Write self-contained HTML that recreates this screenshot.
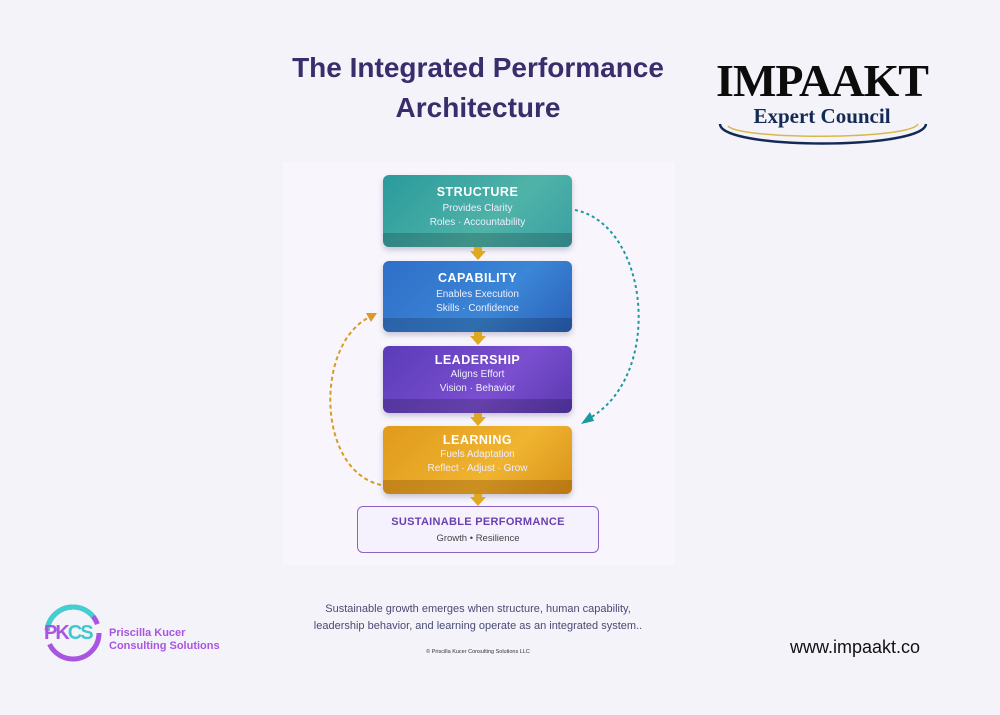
<!DOCTYPE html>
<html><head><meta charset="utf-8"><style>
body{margin:0;width:1000px;height:715px;background:#f5f3fa;font-family:"Liberation Sans",sans-serif;position:relative;overflow:hidden}
.a{position:absolute}
.title{left:240px;width:476px;top:48px;text-align:center;font-size:28px;font-weight:bold;color:#3a2d6b;line-height:40px}
.panel{left:283px;top:162px;width:392px;height:403px;background:#f8f6fc}
.box{position:absolute;left:383px;width:189px;border-radius:6px;color:#fff;text-align:center;box-shadow:0 3px 6px rgba(60,40,100,.25)}
.box h{display:block;font-weight:bold;font-size:12.5px;letter-spacing:.5px;margin-top:10px}
.box p{margin:3px 0 0;font-size:10px;line-height:14px;color:#eef}
.ledge{position:absolute;left:0;right:0;bottom:0;height:14px;border-radius:0 0 6px 6px;background:rgba(0,0,0,.18)}
.dn{position:absolute;left:470px;width:0;height:0;border-left:8px solid transparent;border-right:8px solid transparent;border-top:9px solid #e0a820}
.st{position:absolute;left:474px;width:8px;background:#e0a820}
</style></head><body>
<div class="a title">The Integrated Performance<br>Architecture</div>
<div class="a panel"></div>

<div class="box" style="top:175px;height:72px;background:linear-gradient(135deg,#2a9a9c,#4fb3a8 60%,#3aa0a2)"><h>STRUCTURE</h><p>Provides Clarity<br>Roles · Accountability</p><div class="ledge"></div></div>
<div class="st" style="top:247px;height:5px"></div><div class="dn" style="top:251px"></div>
<div class="box" style="top:261px;height:71px;background:linear-gradient(135deg,#2f6fc9,#3b86d6 60%,#2a60b8)"><h>CAPABILITY</h><p>Enables Execution<br>Skills · Confidence</p><div class="ledge"></div></div>
<div class="st" style="top:332px;height:5px"></div><div class="dn" style="top:336px"></div>
<div class="box" style="top:346px;height:67px;background:linear-gradient(135deg,#5a3cb8,#7b4fd0 60%,#5a38b0)"><h style="margin-top:7px">LEADERSHIP</h><p style="margin-top:1px">Aligns Effort<br>Vision · Behavior</p><div class="ledge"></div></div>
<div class="st" style="top:413px;height:5px"></div><div class="dn" style="top:417px"></div>
<div class="box" style="top:426px;height:68px;background:linear-gradient(135deg,#e09a1c,#f0b430 60%,#d8921a)"><h style="margin-top:7px">LEARNING</h><p style="margin-top:1px">Fuels Adaptation<br>Reflect · Adjust · Grow</p><div class="ledge" style="background:rgba(120,60,0,.3)"></div></div>
<div class="st" style="top:494px;height:4px"></div><div class="dn" style="top:497px"></div>

<div class="a" style="left:357px;top:506px;width:240px;height:45px;border:1.5px solid #8a62c8;border-radius:6px;background:#f6f2fd;text-align:center">
<div style="font-weight:bold;font-size:11px;color:#6a3fb0;margin-top:9px;letter-spacing:.3px">SUSTAINABLE PERFORMANCE</div>
<div style="font-size:9.5px;color:#444;margin-top:5px">Growth • Resilience</div></div>

<svg class="a" style="left:0;top:0" width="1000" height="715">
<path d="M575 210 C650 225 665 380 586 420" fill="none" stroke="#1b9aa0" stroke-width="2" stroke-dasharray="3,3"/>
<polygon points="581,424 590,412 594,421" fill="#1b9aa0"/>
<path d="M381 485 C315 470 315 340 372 316" fill="none" stroke="#d89a28" stroke-width="2" stroke-dasharray="4,3"/>
<polygon points="377,313 366,313 371,322" fill="#d89a28"/>
<path d="M720 124 C720 150 924 150 926 124" fill="none" stroke="#132a55" stroke-width="2.5"/>
<path d="M728 126 C740 140 910 140 918 124" fill="none" stroke="#d9b84a" stroke-width="1.5"/>
<circle cx="73" cy="633" r="26" fill="none" stroke="#a855e0" stroke-width="5" stroke-dasharray="70,14"/>
<circle cx="73" cy="633" r="26" fill="none" stroke="#40d0d0" stroke-width="5" stroke-dasharray="0,85,60,20" />
</svg>
<div class="a" style="left:712px;top:56px;width:220px;text-align:center;font-family:'Liberation Serif',serif;font-weight:bold;font-size:46px;color:#0c0c0c;letter-spacing:-1px;line-height:50px">IMPAAKT</div>
<div class="a" style="left:716px;top:104px;width:212px;text-align:center;font-family:'Liberation Serif',serif;font-weight:bold;font-size:21px;color:#132a55">Expert Council</div>

<div class="a" style="left:44px;top:622px;font-weight:bold;font-size:20px;color:#a855e0;letter-spacing:-2px">PK<span style="color:#40c8d0">CS</span></div>
<div class="a" style="left:109px;top:627px;font-weight:bold;font-size:11px;color:#a855e0;line-height:13px">Priscilla Kucer<br>Consulting Solutions</div>
<div class="a" style="left:280px;top:601px;width:396px;text-align:center;font-size:11px;color:#4a4a72;line-height:17px">Sustainable growth emerges when structure, human capability,<br>leadership behavior, and learning operate as an integrated system..</div>
<div class="a" style="left:280px;top:649px;width:396px;text-align:center;font-size:5.5px;color:#333">© Priscilla Kucer Consulting Solutions LLC</div>
<div class="a" style="left:790px;top:637px;font-size:18px;color:#111">www.impaakt.co</div>
</body></html>
